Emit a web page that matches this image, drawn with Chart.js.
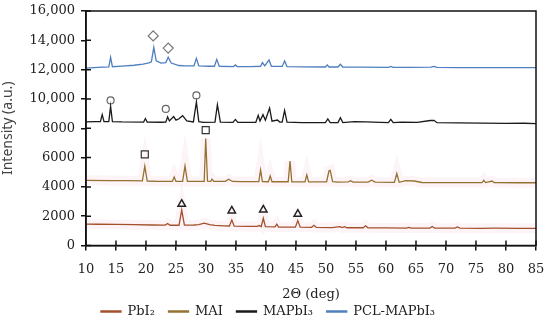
<!DOCTYPE html>
<html>
<head>
<meta charset="utf-8">
<script src="https://cdn.jsdelivr.net/npm/chart.js@4.4.1/dist/chart.umd.min.js"></script>
<style>
	html, body { margin: 0; padding: 0; background: #fff; }
	#wrap { width: 550px; height: 328px; }
</style>
</head>
<body>
<div id="wrap"><canvas id="xrdChart" width="550" height="328"></canvas></div>
<script>
// XRD patterns (2θ in deg, intensity in a.u.)
const pbi2Angle = [10, 12, 15, 18, 21, 23.2, 23.6, 24.0, 25.5, 25.95, 26.4, 28, 28.8, 29.7, 30.6, 31.5, 33, 33.9, 34.3, 34.7, 37, 38.5, 38.9, 39.2, 39.55, 39.9, 41.5, 41.8, 42.1, 44.9, 45.3, 45.7, 47.6, 48, 48.4, 51, 52.3, 52.7, 53.1, 53.5, 56.2, 56.6, 57.0, 60, 63.4, 63.8, 64.2, 67.3, 67.7, 68.1, 71.5, 71.9, 72.3, 76, 78, 82, 85];
const pbi2Intensity = [1460, 1450, 1440, 1420, 1400, 1390, 1500, 1380, 1380, 2420, 1390, 1400, 1420, 1520, 1420, 1370, 1340, 1330, 1740, 1320, 1300, 1300, 1360, 1280, 1860, 1290, 1270, 1450, 1260, 1250, 1700, 1250, 1240, 1380, 1230, 1220, 1290, 1220, 1280, 1210, 1210, 1340, 1210, 1200, 1190, 1240, 1190, 1190, 1300, 1190, 1180, 1260, 1180, 1170, 1180, 1170, 1170];

const maiAngle = [10, 14, 17, 19.4, 19.8, 20.2, 22, 24.4, 24.7, 25.0, 26.1, 26.5, 26.9, 29.7, 29.95, 30.25, 30.8, 31.0, 31.3, 33.2, 33.8, 34.4, 36, 38.8, 39.1, 39.4, 40.4, 40.7, 41.0, 43.7, 44.0, 44.3, 46.5, 46.8, 47.1, 50.1, 50.5, 50.7, 51.1, 52, 53.7, 54.1, 54.5, 57, 57.6, 58.2, 61.4, 61.8, 62.2, 63.3, 64.7, 66, 70, 76.0, 76.3, 76.6, 77.7, 78, 82, 85];
const maiIntensity = [4450, 4430, 4420, 4410, 5420, 4400, 4380, 4370, 4680, 4370, 4380, 5420, 4370, 4380, 7300, 4390, 4380, 4520, 4370, 4380, 4520, 4370, 4360, 4360, 5150, 4360, 4350, 4750, 4350, 4350, 5760, 4350, 4340, 4815, 4340, 4350, 5100, 5130, 4350, 4330, 4340, 4420, 4330, 4320, 4450, 4320, 4310, 4910, 4310, 4420, 4400, 4300, 4290, 4290, 4450, 4290, 4400, 4290, 4280, 4280];

const mapbi3Angle = [10, 11.5, 12.4, 12.7, 13.0, 13.8, 14.1, 14.4, 16, 19.6, 19.9, 20.2, 22.5, 23.3, 23.6, 23.9, 24.6, 25.0, 25.5, 26.1, 26.8, 27.9, 28.4, 28.8, 29.6, 31.5, 31.9, 32.4, 34.5, 34.9, 35.3, 38.3, 38.7, 39.0, 39.5, 39.9, 40.6, 41.0, 41.9, 42.3, 42.7, 43.1, 43.5, 46, 49.9, 50.3, 50.7, 52.0, 52.4, 52.8, 54.7, 56.6, 60.4, 60.8, 61.2, 62.6, 65.2, 67.4, 68.0, 68.5, 72, 76, 80, 83, 85];
const mapbi3Intensity = [8440, 8450, 8450, 8930, 8450, 8450, 9490, 8450, 8430, 8420, 8660, 8420, 8410, 8420, 8780, 8500, 8800, 8550, 8650, 8860, 8500, 8430, 9790, 8450, 8400, 8420, 9610, 8420, 8400, 8600, 8400, 8400, 8880, 8500, 8930, 8550, 9380, 8480, 8560, 8420, 8420, 9220, 8420, 8390, 8390, 8640, 8390, 8390, 8720, 8390, 8450, 8430, 8380, 8600, 8380, 8420, 8400, 8530, 8540, 8380, 8360, 8350, 8330, 8340, 8320];

const pclAngle = [10, 12, 13.8, 14.1, 14.4, 16, 18, 19.5, 20.5, 20.9, 21.3, 21.7, 22.5, 23.3, 23.7, 24.2, 25.5, 26.5, 28.0, 28.4, 28.8, 30.5, 31.4, 31.8, 32.2, 34.6, 34.9, 35.2, 37.5, 39.1, 39.4, 39.8, 40.5, 40.9, 42.7, 43.1, 43.5, 46, 49.9, 50.2, 50.5, 52.0, 52.4, 52.8, 56, 60.4, 60.8, 61.2, 64, 67.5, 68, 68.5, 72, 78, 85];
const pclIntensity = [12100, 12150, 12180, 12840, 12200, 12240, 12300, 12380, 12460, 12540, 13520, 12600, 12440, 12480, 12840, 12450, 12280, 12250, 12250, 12770, 12250, 12230, 12230, 12700, 12230, 12210, 12320, 12210, 12200, 12230, 12480, 12250, 12660, 12230, 12220, 12590, 12210, 12190, 12180, 12320, 12180, 12180, 12370, 12180, 12170, 12160, 12220, 12160, 12160, 12170, 12220, 12150, 12140, 12140, 12130];

// peak markers
const diamondAngle = [21.2, 23.7];
const diamondIntensity = [14300, 13470];
const circleAngle = [14.1, 23.3, 28.4];
const circleIntensity = [9900, 9320, 10240];
const squareAngle = [19.8, 29.95];
const squareIntensity = [6220, 7870];
const triangleAngle = [25.95, 34.3, 39.55, 45.3];
const triangleIntensity = [2830, 2370, 2440, 2150];

const yTickLabels = ['0', '2000', '4000', '6000', '8000', '10,000', '12,000', '14,000', '16,000'];
const seriesNames = ['PbI\u2082 ', 'MAI ', 'MAPbI\u2083 ', 'PCL-MAPbI\u2083'];

const pairs = (xs, ys) => xs.map((x, i) => ({x: x, y: ys[i]}));

const serif = '"DejaVu Serif", serif';
const ink = '#111';

function trace(label, xs, ys, color) {
	return {label: label, data: pairs(xs, ys), borderColor: color, backgroundColor: color,
		borderWidth: 1.3, pointRadius: 0, tension: 0, fill: false};
}
function halo(xs, ys) {
	return {label: '', data: pairs(xs, ys), borderColor: 'rgba(246, 200, 216, 0.2)',
		borderWidth: 10, pointRadius: 0, fill: false};
}
function marker(xs, ys, style, radius, color, width) {
	return {label: '', type: 'scatter', data: pairs(xs, ys), showLine: false, pointStyle: style,
		pointRadius: radius, pointBorderColor: color, pointBackgroundColor: 'rgba(0,0,0,0)',
		pointBorderWidth: width};
}

// frame round the plot and the inner half of the ticks
const framePlugin = {
	id: 'frame',
	afterDraw(chart) {
		const {ctx, chartArea: a, scales} = chart;
		ctx.save();
		ctx.strokeStyle = ink;
		ctx.lineWidth = 1.5;
		ctx.strokeRect(a.left, a.top, a.right - a.left, a.bottom - a.top);
		ctx.beginPath();
		scales.x.ticks.forEach(t => {
			const p = scales.x.getPixelForValue(t.value);
			ctx.moveTo(p, a.bottom);
			ctx.lineTo(p, a.bottom - 5);
		});
		scales.y.ticks.forEach(t => {
			const p = scales.y.getPixelForValue(t.value);
			ctx.moveTo(a.left, p);
			ctx.lineTo(a.left + 5, p);
		});
		ctx.stroke();
		ctx.restore();
	}
};

const ctx = document.getElementById('xrdChart').getContext('2d');
const xrdChart = new Chart(ctx, {
	type: 'line',
	data: {
		datasets: [
			trace(seriesNames[0], pbi2Angle, pbi2Intensity, '#a5502c'),
			trace(seriesNames[1], maiAngle, maiIntensity, '#957232'),
			trace(seriesNames[2], mapbi3Angle, mapbi3Intensity, '#1a1a1a'),
			trace(seriesNames[3], pclAngle, pclIntensity, '#4f7fbf'),
			marker(diamondAngle, diamondIntensity, 'rectRot', 5, '#777', 1.2),
			marker(circleAngle, circleIntensity, 'circle', 3.5, '#666', 1.2),
			marker(squareAngle, squareIntensity, 'rect', 5, '#333', 1.2),
			marker(triangleAngle, triangleIntensity, 'triangle', 4.3, '#222', 1.5),
			halo(pbi2Angle, pbi2Intensity),
			halo(maiAngle, maiIntensity)
		]
	},
	options: {
		responsive: false,
		animation: false,
		layout: {padding: {left: 0, right: 14, top: 11, bottom: 0}},
		plugins: {
			tooltip: {enabled: false},
			legend: {
				position: 'bottom',
				labels: {
					font: {family: serif, size: 13},
					color: '#222',
					boxWidth: 20,
					boxHeight: 1,
					padding: 9.5,
					filter: item => item.text !== ''
				}
			}
		},
		scales: {
			x: {
				type: 'linear',
				min: 10,
				max: 85,
				ticks: {stepSize: 5, font: {family: serif, size: 13}, color: '#222', padding: 11, maxRotation: 0},
				grid: {drawOnChartArea: false, tickLength: 5, color: ink, lineWidth: 1.5},
				border: {color: ink, width: 1.5},
				title: {display: true, text: '2\u0398 (deg)', font: {family: serif, size: 13}, color: '#222', padding: {top: 0, bottom: -7}},
				afterFit: scale => {
					scale.height = 50;
					scale.paddingLeft = 0;
					scale.paddingRight = 0;
				}
			},
			y: {
				min: 0,
				max: 16000,
				ticks: {stepSize: 2000, font: {family: serif, size: 13}, color: '#222', padding: 6,
					callback: (v, i) => yTickLabels[i]},
				grid: {drawOnChartArea: false, tickLength: 5, color: ink, lineWidth: 1.5},
				border: {color: ink, width: 1.5},
				title: {display: true, text: 'Intensity (a.u.)', font: {family: '"Noto Sans", sans-serif', size: 14}, color: '#444', padding: {top: 0, bottom: 4}},
				afterFit: scale => {
					scale.width = 86;
					scale.paddingTop = 0;
					scale.paddingBottom = 0;
				}
			}
		}
	},
	plugins: [framePlugin]
});
</script>
</body>
</html>
